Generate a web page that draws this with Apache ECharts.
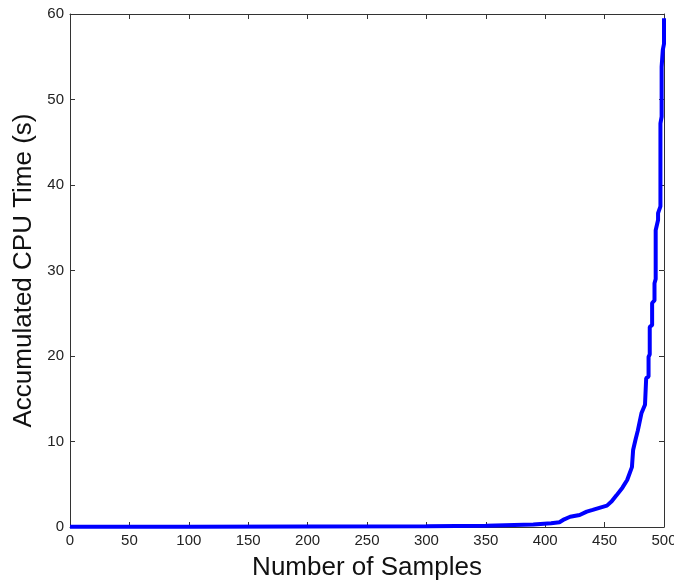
<!DOCTYPE html>
<html>
<head>
<meta charset="utf-8">
<script src="https://cdn.jsdelivr.net/npm/echarts@6/dist/echarts.min.js"></script>
<style>
	html, body { margin: 0; padding: 0; background: #fff; }
	#chart { width: 674px; height: 583px; }
</style>
</head>
<body>
<div id="chart"></div>
<script>
'use strict';
// sample index vs accumulated cpu time
var samples = [0, 100, 200, 300, 350, 390, 405, 412, 416, 421, 429, 435, 440, 447, 452, 456, 460, 465, 469, 473, 474, 476, 478, 481, 484, 485, 485, 487, 487, 488, 488, 490, 490, 492, 492, 493, 493, 495, 495, 497, 497, 498, 498, 499, 500, 500];
var cpuTime = [0.02, 0.03, 0.05, 0.08, 0.15, 0.3, 0.45, 0.55, 0.9, 1.2, 1.4, 1.8, 2.0, 2.3, 2.5, 3.0, 3.7, 4.6, 5.5, 7.0, 9.0, 10.2, 11.3, 13.3, 14.3, 14.5, 17.4, 17.6, 19.9, 20.2, 23.4, 23.6, 26.2, 26.5, 28.5, 29.0, 34.7, 35.9, 36.7, 37.5, 47.2, 48.0, 53.8, 55.8, 56.5, 59.5];
var xTicks = { min: 0, max: 500, interval: 50 };
var yTicks = { min: 0, max: 60, interval: 10 };

var font = 'Liberation Sans, Arial, sans-serif';
var axisColor = '#333';

function boxAxis(t, pos, show) {
	return {
		type: 'value',
		position: pos,
		min: t.min, max: t.max, interval: t.interval,
		axisLine: { show: true, onZero: false, lineStyle: { color: axisColor, width: 1 } },
		axisTick: { show: true, inside: true, length: 5, lineStyle: { color: axisColor } },
		axisLabel: { show: show, color: '#222', fontFamily: font, fontSize: 15, margin: 6 },
		splitLine: { show: false }
	};
}

var xMain = boxAxis(xTicks, 'bottom', true);
xMain.name = 'Number of Samples';
xMain.nameLocation = 'middle';
xMain.nameGap = 28;
xMain.nameTextStyle = { color: '#111', fontFamily: font, fontSize: 26 };

var yMain = boxAxis(yTicks, 'left', true);
yMain.name = 'Accumulated CPU Time (s)';
yMain.nameLocation = 'middle';
yMain.nameGap = 27;
yMain.nameTextStyle = { color: '#111', fontFamily: font, fontSize: 26 };

var data = samples.map(function(s, i){ return [s, cpuTime[i]]; });

var chart = echarts.init(document.getElementById('chart'));
chart.setOption({
	animation: false,
	grid: { left: 70, right: 10, top: 14, bottom: 56, containLabel: false, outerBoundsMode: 'none' },
	xAxis: [xMain, boxAxis(xTicks, 'top', false)],
	yAxis: [yMain, boxAxis(yTicks, 'right', false)],
	series: [{
		type: 'line',
		data: data,
		showSymbol: false,
		lineStyle: { color: '#0000ff', width: 4 },
		itemStyle: { color: '#0000ff' }
	}]
});
</script>
</body>
</html>
